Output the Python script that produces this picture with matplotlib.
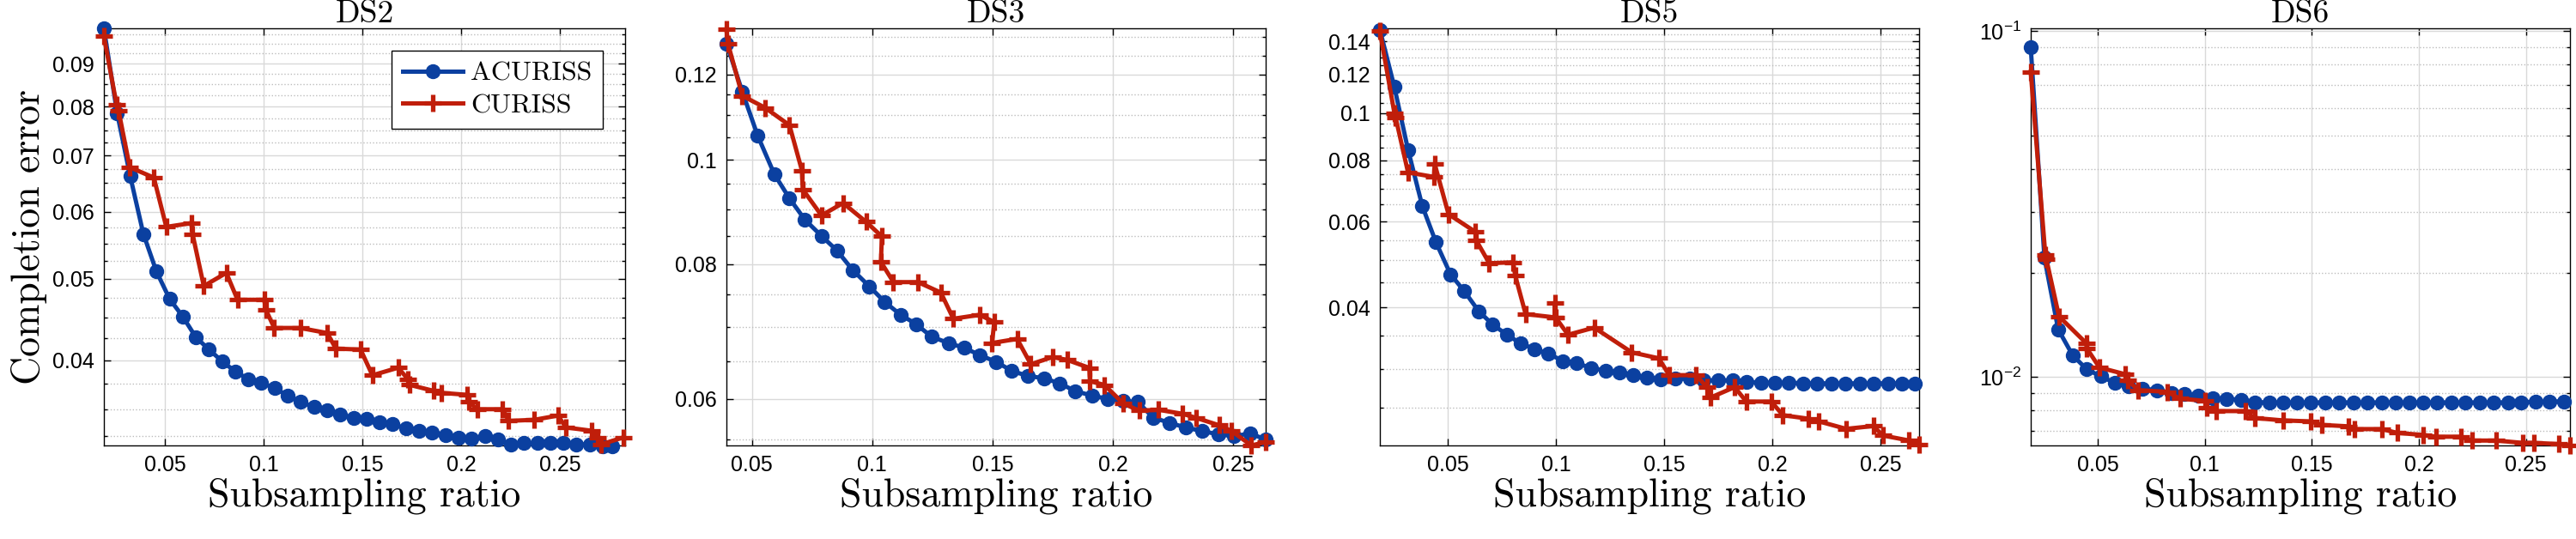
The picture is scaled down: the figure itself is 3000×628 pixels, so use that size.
import numpy as np
import matplotlib
matplotlib.use('Agg')
import matplotlib.pyplot as plt
from matplotlib.ticker import FixedLocator, MultipleLocator, FixedFormatter, LogLocator, NullFormatter

# ---------------- data ----------------
ds2_x_a = [0.019, 0.0257, 0.0323, 0.039, 0.0456, 0.0523, 0.0589, 0.0656, 0.0722, 0.0789,
           0.0855, 0.0922, 0.0988, 0.1055, 0.1121, 0.1188, 0.1254, 0.1321, 0.1387, 0.1454,
           0.152, 0.1587, 0.1653, 0.172, 0.1786, 0.1853, 0.1919, 0.1986, 0.2052, 0.2119,
           0.2185, 0.2252, 0.2318, 0.2385, 0.2451, 0.2518, 0.2584, 0.2651, 0.2717, 0.2764]
ds2_y_a = [0.0991, 0.0786, 0.0662, 0.0565, 0.0510, 0.0473, 0.0451, 0.0426, 0.0412, 0.0399,
           0.0388, 0.0380, 0.0376, 0.0371, 0.0363, 0.0357, 0.0352, 0.0349, 0.0345, 0.0342,
           0.0341, 0.0338, 0.0336, 0.0332, 0.0330, 0.0328, 0.0326, 0.0324, 0.0323, 0.0325,
           0.0322, 0.0318, 0.0319, 0.0319, 0.0319, 0.0319, 0.0318, 0.0318, 0.0316, 0.0316]
ds2_x_c = [0.019, 0.0254, 0.0264, 0.0321, 0.0443, 0.0506, 0.0633, 0.0639, 0.0696, 0.081,
           0.0867, 0.1002, 0.1011, 0.1053, 0.1184, 0.1321, 0.1365, 0.149, 0.155, 0.168,
           0.173, 0.174, 0.186, 0.19, 0.203, 0.204, 0.208, 0.221, 0.224, 0.237,
           0.249, 0.253, 0.266, 0.269, 0.271, 0.282]
ds2_y_c = [0.0970, 0.0805, 0.0792, 0.0678, 0.0659, 0.0576, 0.0582, 0.0565, 0.0490, 0.0508,
           0.0472, 0.0472, 0.0459, 0.0437, 0.0437, 0.0431, 0.0413, 0.0412, 0.0384, 0.0392,
           0.0380, 0.0374, 0.0368, 0.0366, 0.0364, 0.0357, 0.0350, 0.0350, 0.0339, 0.0340,
           0.0344, 0.0333, 0.0330, 0.0324, 0.0318, 0.0324]

ds3_x_a = [0.0394, 0.046, 0.0524, 0.0593, 0.0656, 0.072, 0.0789, 0.0853, 0.0919, 0.0988,
           0.1052, 0.1118, 0.1182, 0.1247, 0.1317, 0.1382, 0.1446, 0.1516, 0.158, 0.1645,
           0.1714, 0.1779, 0.1844, 0.1913, 0.1978, 0.2043, 0.2104, 0.2168, 0.2237, 0.2303,
           0.2372, 0.2438, 0.2502, 0.2571, 0.2635]
ds3_y_a = [0.1283, 0.1157, 0.1053, 0.0970, 0.0921, 0.0880, 0.0850, 0.0824, 0.0790, 0.0763,
           0.0738, 0.0718, 0.0704, 0.0685, 0.0676, 0.0669, 0.0659, 0.0649, 0.0637, 0.0630,
           0.0627, 0.0620, 0.0610, 0.0604, 0.0600, 0.0597, 0.0596, 0.0576, 0.0570, 0.0564,
           0.0560, 0.0556, 0.0554, 0.0557, 0.0550]
ds3_x_c = [0.0394, 0.040, 0.046, 0.0555, 0.0656, 0.0708, 0.0711, 0.0789, 0.0879, 0.0974,
           0.104, 0.1036, 0.1088, 0.119, 0.1285, 0.1337, 0.1446, 0.1507, 0.1498, 0.1602,
           0.1659, 0.1749, 0.181, 0.1902, 0.1905, 0.1965, 0.2043, 0.2109, 0.219, 0.229,
           0.2346, 0.2441, 0.2493, 0.2576, 0.2635]
ds3_y_c = [0.1322, 0.1283, 0.1147, 0.1118, 0.1077, 0.0977, 0.0939, 0.0888, 0.0912, 0.0876,
           0.0849, 0.0804, 0.0770, 0.0770, 0.0753, 0.0712, 0.0718, 0.0707, 0.0676, 0.0682,
           0.0646, 0.0656, 0.0652, 0.0641, 0.0623, 0.0618, 0.0594, 0.0585, 0.0586, 0.0581,
           0.0576, 0.0567, 0.0560, 0.0543, 0.0547]

ds5_x_a = [0.0187, 0.0254, 0.0317, 0.0383, 0.0446, 0.0513, 0.0577, 0.0644, 0.0706, 0.0773,
           0.0837, 0.0902, 0.0965, 0.1033, 0.1096, 0.1162, 0.1229, 0.1292, 0.1356, 0.1421,
           0.1485, 0.1552, 0.1619, 0.1681, 0.1748, 0.1815, 0.1879, 0.1946, 0.2010, 0.2075,
           0.2142, 0.2206, 0.2273, 0.2337, 0.2404, 0.2465, 0.2533, 0.2596, 0.2658]
ds5_y_a = [0.148, 0.113, 0.0841, 0.0645, 0.0544, 0.0468, 0.0432, 0.0393, 0.0370, 0.0352,
           0.0338, 0.0329, 0.0322, 0.0311, 0.0308, 0.0301, 0.0297, 0.0295, 0.0291, 0.0288,
           0.0285, 0.0287, 0.0286, 0.0284, 0.0284, 0.0284, 0.0282, 0.0281, 0.0281, 0.0281,
           0.0280, 0.0280, 0.0280, 0.0280, 0.0280, 0.0280, 0.0280, 0.0280, 0.0280]
ds5_x_c = [0.0187, 0.0254, 0.026, 0.0317, 0.0437, 0.044, 0.0504, 0.0629, 0.0633, 0.0692,
           0.0802, 0.0812, 0.086, 0.0994, 0.0994, 0.0998, 0.1056, 0.1177, 0.135, 0.1475,
           0.1523, 0.1648, 0.1696, 0.1715, 0.1825, 0.1879, 0.1994, 0.2048, 0.2167, 0.2215,
           0.234, 0.2465, 0.251, 0.2629, 0.2677]
ds5_y_c = [0.147, 0.100, 0.0978, 0.0756, 0.0740, 0.0787, 0.0621, 0.0571, 0.0548, 0.0493,
           0.0495, 0.0465, 0.0388, 0.0382, 0.0409, 0.0382, 0.0352, 0.0364, 0.0324, 0.0315,
           0.0291, 0.0291, 0.0275, 0.0262, 0.0275, 0.0257, 0.0257, 0.0241, 0.0237, 0.0234,
           0.0226, 0.0229, 0.0219, 0.0214, 0.0210]

ds6_x_a = [0.0187, 0.0251, 0.0315, 0.0383, 0.0449, 0.0514, 0.0582, 0.0644, 0.0708, 0.0776,
           0.0844, 0.0907, 0.0971, 0.1039, 0.1103, 0.1169, 0.1233, 0.1301, 0.1366, 0.1432,
           0.1496, 0.1564, 0.1628, 0.1694, 0.1758, 0.1826, 0.1891, 0.1957, 0.2021, 0.2086,
           0.2152, 0.2216, 0.2284, 0.2348, 0.2416, 0.2478, 0.2547, 0.2611, 0.2677]
ds6_y_a = [0.0897, 0.0221, 0.01374, 0.01155, 0.01052, 0.01005, 0.0096, 0.0094, 0.00926, 0.00916,
           0.0090, 0.00892, 0.00884, 0.0087, 0.00864, 0.0086, 0.00846, 0.00844, 0.00844, 0.00844,
           0.00844, 0.00844, 0.00844, 0.00844, 0.00844, 0.00844, 0.00844, 0.00844, 0.00844, 0.00844,
           0.00844, 0.00844, 0.00844, 0.00844, 0.00844, 0.00846, 0.00848, 0.0085, 0.0085]
ds6_x_c = [0.0187, 0.0255, 0.026, 0.0319, 0.0446, 0.0449, 0.0508, 0.063, 0.064, 0.0689,
           0.0825, 0.0883, 0.1, 0.101, 0.1054, 0.1189, 0.1233, 0.1366, 0.1496, 0.1545,
           0.1671, 0.17, 0.1827, 0.19, 0.2021, 0.208, 0.2196, 0.2249, 0.2362, 0.2484,
           0.2537, 0.2654, 0.2706]
ds6_y_c = [0.0762, 0.0226, 0.0219, 0.01497, 0.01253, 0.0121, 0.01065, 0.01018, 0.0098, 0.00916,
           0.00906, 0.00866, 0.00853, 0.00815, 0.00797, 0.00797, 0.00761, 0.00749, 0.00744, 0.00727,
           0.0072, 0.00707, 0.00707, 0.00689, 0.0068, 0.00672, 0.00672, 0.00655, 0.00655, 0.00645,
           0.00645, 0.0064, 0.00634]

titles = ['DS2', 'DS3', 'DS5', 'DS6']
xlims = [(0.019, 0.283), (0.0394, 0.2635), (0.0187, 0.2677), (0.0187, 0.2706)]
ylims = [(0.0317, 0.0991), (0.0543, 0.1325), (0.0209, 0.149), (0.00634, 0.1019)]
yticks = [[0.04, 0.05, 0.06, 0.07, 0.08, 0.09],
          [0.06, 0.08, 0.1, 0.12],
          [0.04, 0.06, 0.08, 0.1, 0.12, 0.14],
          [0.01, 0.1]]
ytick_labels = [['0.04', '0.05', '0.06', '0.07', '0.08', '0.09'],
                ['0.06', '0.08', '0.1', '0.12'],
                ['0.04', '0.06', '0.08', '0.1', '0.12', '0.14'],
                [r'$\mathregular{10^{-2}}$', r'$\mathregular{10^{-1}}$']]
minor_steps = [0.0025, 0.005, 0.005, None]
xticks = [0.05, 0.1, 0.15, 0.2, 0.25]
xtick_labels = ['0.05', '0.1', '0.15', '0.2', '0.25']

series = [(ds2_x_a, ds2_y_a, ds2_x_c, ds2_y_c),
          (ds3_x_a, ds3_y_a, ds3_x_c, ds3_y_c),
          (ds5_x_a, ds5_y_a, ds5_x_c, ds5_y_c),
          (ds6_x_a, ds6_y_a, ds6_x_c, ds6_y_c)]

BLUE = '#0B40A0'
RED = '#C01E0A'
SERIF = 'cmr10'
SANS = 'Liberation Sans'

W, H = 3000, 628
fig = plt.figure(figsize=(W / 100, H / 100), dpi=100)
boxes = [(121, 728), (846, 1474), (1607, 2235), (2365, 2993)]
top, bottom = 33, 519

for i, (xa, ya, xc, yc) in enumerate(series):
    l, r = boxes[i]
    ax = fig.add_axes([l / W, 1 - bottom / H, (r - l) / W, (bottom - top) / H])
    ax.set_yscale('log')
    ax.plot(xa, ya, '-o', color=BLUE, lw=3.6, ms=11.5, mec=BLUE, label='ACURISS',
            clip_on=False, zorder=3)
    ax.plot(xc, yc, '-+', color=RED, lw=3.6, ms=15, mew=3.8, label='CURISS',
            clip_on=False, zorder=4)
    ax.set_xlim(*xlims[i])
    ax.set_ylim(*ylims[i])
    ax.xaxis.set_major_locator(FixedLocator(xticks))
    ax.xaxis.set_major_formatter(FixedFormatter(xtick_labels))
    ax.xaxis.set_minor_locator(FixedLocator([]))
    ax.yaxis.set_major_locator(FixedLocator(yticks[i]))
    ax.yaxis.set_major_formatter(FixedFormatter(ytick_labels[i]))
    if minor_steps[i]:
        ax.yaxis.set_minor_locator(MultipleLocator(minor_steps[i]))
    else:
        ax.yaxis.set_minor_locator(LogLocator(base=10, subs=np.arange(2, 10)))
    ax.yaxis.set_minor_formatter(NullFormatter())
    ax.grid(True, which='major', color='#d9d9d9', lw=1.0)
    ax.grid(True, which='minor', axis='y', color='#bdbdbd', ls=':', lw=1.0)
    ax.set_axisbelow(True)
    ax.tick_params(which='both', direction='in', top=True, right=True, width=1)
    ax.tick_params(which='major', length=6, labelsize=18, pad=8)
    ax.tick_params(which='minor', length=3)
    for lab in ax.get_xticklabels() + ax.get_yticklabels():
        lab.set_fontfamily(SANS)
    for s in ax.spines.values():
        s.set_linewidth(1.0)
    ax.set_title(titles[i], fontfamily=SERIF, fontsize=27, pad=1)
    ax.set_xlabel('Subsampling ratio', fontfamily=SERIF, fontsize=33, labelpad=2)
    if i == 0:
        ax.set_ylabel('Completion error', fontfamily=SERIF, fontsize=33, labelpad=4)
        leg = ax.legend(loc='upper right', prop={'family': SERIF, 'size': 23},
                        fancybox=False, edgecolor='black', framealpha=1,
                        handlelength=2.2, borderaxespad=0.8, labelspacing=0.3,
                        handletextpad=0.3)
        leg.get_frame().set_linewidth(1.0)

fig.savefig('out.png', dpi=100)
